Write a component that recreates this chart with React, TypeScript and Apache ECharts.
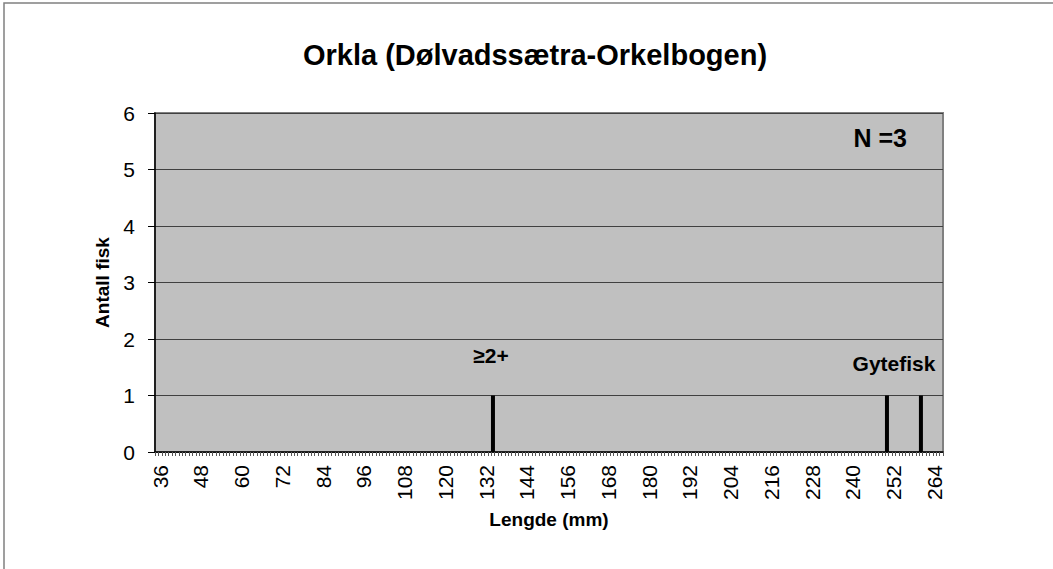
import React, { useEffect, useRef } from "react";
import * as echarts from "echarts";

const title = "Orkla (Dølvadssætra-Orkelbogen)";
const xName = "Lengde (mm)";
const yName = "Antall fisk";
const firstLength = 35;
const lastLength = 266;
const fishLengths = [134, 250, 260];
const fishCounts = [1, 1, 1];
const yTicks = [0, 1, 2, 3, 4, 5, 6];
const notes = ["N =3", "≥2+", "Gytefisk"];

export default function App() {
  const ref = useRef<HTMLDivElement>(null);
  useEffect(() => {
    if (!ref.current) return;
    const chart = echarts.init(ref.current, null, { renderer: "svg" });
    const categories: string[] = [];
    const values: number[] = [];
    for (let v = firstLength; v <= lastLength; v++) {
      categories.push(String(v));
      const i = fishLengths.indexOf(v);
      values.push(i >= 0 ? fishCounts[i] : 0);
    }
    const font = "Arial, 'Liberation Sans', sans-serif";
    chart.setOption({
      animation: false,
      backgroundColor: "#ffffff",
      title: {
        text: title,
        left: 530,
        top: 35,
        textAlign: "center",
        textStyle: { fontFamily: font, fontSize: 29, fontWeight: "bold", color: "#000" },
      },
      grid: { left: 155, right: 110, top: 113, bottom: 117, containLabel: false },
      xAxis: {
        type: "category",
        data: categories,
        name: xName,
        nameLocation: "middle",
        nameGap: 58,
        nameTextStyle: { fontFamily: font, fontSize: 19, fontWeight: "bold", color: "#000" },
        axisLine: { lineStyle: { color: "#000", width: 1.5 } },
        axisTick: { show: true, interval: 0, length: 4, lineStyle: { color: "#555" } },
        axisLabel: {
          interval: (idx: number, val: string) => (Number(val) - 36) % 12 === 0,
          rotate: 90,
          margin: 13,
          fontFamily: font,
          fontSize: 21,
          color: "#000",
        },
        splitLine: { show: false },
      },
      yAxis: {
        type: "value",
        min: yTicks[0],
        max: yTicks[yTicks.length - 1],
        interval: 1,
        name: yName,
        nameLocation: "middle",
        nameGap: 43,
        nameTextStyle: { fontFamily: font, fontSize: 19, fontWeight: "bold", color: "#000" },
        axisLine: { show: true, lineStyle: { color: "#000", width: 1.5 } },
        axisTick: { show: true, length: 7, lineStyle: { color: "#000" } },
        axisLabel: { fontFamily: font, fontSize: 21, color: "#000", margin: 20 },
        splitLine: { show: true, lineStyle: { color: "#404040", width: 1 } },
      },
      graphic: [
        {
          type: "rect",
          z: -10,
          shape: { x: 4, y: 3, width: 1100, height: 600 },
          style: { fill: "#fff", stroke: "#808080", lineWidth: 1.5 },
        },
        {
          type: "rect",
          z: -5,
          shape: { x: 155, y: 113, width: 788, height: 339 },
          style: { fill: "#c0c0c0", stroke: "#808080", lineWidth: 2 },
        },
        {
          type: "text",
          x: 907,
          y: 138,
          style: { text: notes[0], fontFamily: font, fontSize: 25, fontWeight: "bold", fill: "#000", align: "right", verticalAlign: "middle" },
        },
        {
          type: "text",
          x: 491,
          y: 355,
          style: { text: notes[1], fontFamily: font, fontSize: 21, fontWeight: "bold", fill: "#000", align: "center", verticalAlign: "middle" },
        },
        {
          type: "text",
          x: 894,
          y: 363,
          style: { text: notes[2], fontFamily: font, fontSize: 21, fontWeight: "bold", fill: "#000", align: "center", verticalAlign: "middle" },
        },
      ],
      series: [
        {
          type: "bar",
          data: values,
          barWidth: 4,
          itemStyle: { color: "#000" },
          z: 5,
        },
      ],
    });
    return () => chart.dispose();
  }, []);
  return (
    <div
      ref={ref}
      style={{ position: "fixed", left: 0, top: 0, width: 1053, height: 569 }}
    />
  );
}
